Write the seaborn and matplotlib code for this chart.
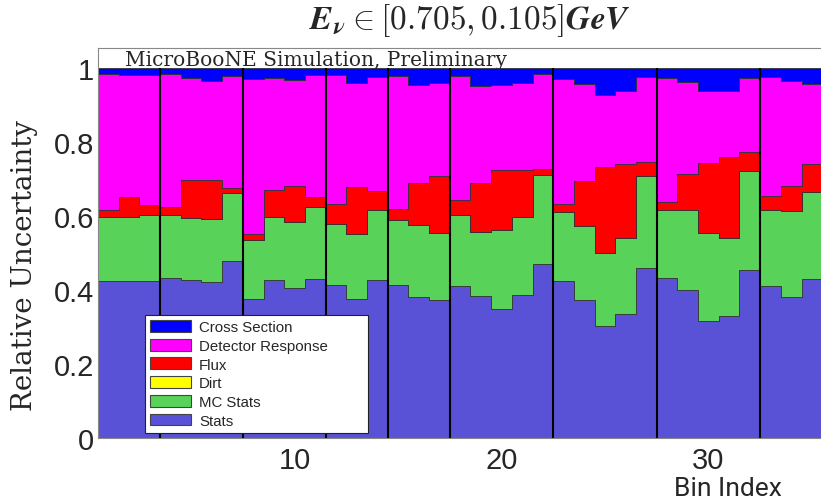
import numpy as np
import pandas as pd
import seaborn as sns
import matplotlib.pyplot as plt
from matplotlib.patches import Patch
from matplotlib.ticker import MultipleLocator, FuncFormatter

# bin index 1..35 (visible part of the plot)
bins = list(range(1, 36))

# fractional contribution of each source per bin
stats = [0.424, 0.424, 0.424, 0.432, 0.427, 0.422, 0.478, 0.376, 0.427, 0.405,
         0.430, 0.414, 0.376, 0.427, 0.414, 0.381, 0.373, 0.411, 0.384, 0.349,
         0.386, 0.470, 0.424, 0.373, 0.303, 0.335, 0.459, 0.432, 0.400, 0.316,
         0.330, 0.454, 0.411, 0.381, 0.430]
mc_stats = [0.173, 0.173, 0.179, 0.171, 0.168, 0.170, 0.184, 0.159, 0.170, 0.179,
            0.194, 0.164, 0.175, 0.189, 0.175, 0.195, 0.181, 0.192, 0.173, 0.213,
            0.211, 0.241, 0.187, 0.200, 0.197, 0.206, 0.249, 0.184, 0.216, 0.238,
            0.211, 0.268, 0.205, 0.233, 0.235]
dirt = [0.0] * 35
flux = [0.019, 0.054, 0.027, 0.021, 0.102, 0.105, 0.014, 0.016, 0.073, 0.097,
        0.027, 0.054, 0.127, 0.052, 0.030, 0.113, 0.154, 0.040, 0.132, 0.162,
        0.127, 0.016, 0.021, 0.122, 0.232, 0.200, 0.038, 0.022, 0.098, 0.189,
        0.218, 0.051, 0.038, 0.067, 0.076]
detector = [0.368, 0.330, 0.351, 0.360, 0.276, 0.268, 0.302, 0.419, 0.303, 0.287,
            0.330, 0.349, 0.281, 0.308, 0.359, 0.265, 0.251, 0.335, 0.262, 0.230,
            0.235, 0.257, 0.338, 0.262, 0.195, 0.197, 0.230, 0.335, 0.248, 0.195,
            0.179, 0.200, 0.322, 0.284, 0.216]
xsec = [0.016, 0.019, 0.019, 0.016, 0.027, 0.035, 0.022, 0.030, 0.027, 0.032,
        0.019, 0.019, 0.041, 0.024, 0.022, 0.046, 0.041, 0.022, 0.049, 0.046,
        0.041, 0.016, 0.030, 0.043, 0.073, 0.062, 0.024, 0.027, 0.038, 0.062,
        0.062, 0.027, 0.024, 0.035, 0.043]

# boundaries between energy slices
dividers = [3.5, 7.5, 11.5, 14.5, 17.5, 22.5, 27.5, 32.5]

labels = ['Cross Section', 'Detector Response', 'Flux', 'Dirt', 'MC Stats', 'Stats']
colors = ['#0000ff', '#ff00ff', '#ff0000', '#ffff00', '#58d258', '#5a52d6']
series = [xsec, detector, flux, dirt, mc_stats, stats]

rows = []
for lab, vals in zip(labels, series):
    for b, v in zip(bins, vals):
        rows.append({'bin': b, 'frac': v, 'source': lab})
df = pd.DataFrame(rows)

sns.set_style('white')
plt.rcParams['font.family'] = ['Liberation Sans', 'DejaVu Sans']
plt.rcParams['mathtext.fontset'] = 'cm'

fig = plt.figure(figsize=(8.21, 5.02), dpi=100)
ax = fig.add_axes([98 / 821, 1 - 439 / 502, 1 - 98 / 821, (439 - 49) / 502])

sns.histplot(data=df, x='bin', weights='frac', hue='source', hue_order=labels,
             palette=dict(zip(labels, colors)), multiple='stack', discrete=True,
             element='step', fill=True, alpha=1, linewidth=0.6, edgecolor='#333333',
             legend=False, ax=ax)

ax.vlines(dividers, 0, 1, colors='black', linewidth=1.5)

ax.set_xlim(0.5, 35.44)
ax.set_ylim(0, 1.054)
ax.set_xticks([10, 20, 30])
ax.xaxis.set_minor_locator(MultipleLocator(2))
ax.set_yticks([0, 0.2, 0.4, 0.6, 0.8, 1.0])
ax.yaxis.set_minor_locator(MultipleLocator(0.05))
ax.yaxis.set_major_formatter(FuncFormatter(lambda v, p: f'{v:g}'))
ax.tick_params(which='major', direction='in', length=15, width=0.8, labelsize=21,
               color='#444444')
ax.tick_params(which='minor', direction='in', length=7, width=0.8, color='#444444')
ax.tick_params(axis='y', pad=3)
ax.tick_params(axis='x', pad=6)
for side in ['left', 'top', 'bottom']:
    ax.spines[side].set_color('#888888')
    ax.spines[side].set_linewidth(0.8)
ax.spines['right'].set_visible(False)

ax.set_xlabel('')
ax.set_ylabel('')
fig.text(25 / 821, 1 - 266 / 502, 'Relative Uncertainty', rotation=90,
         ha='center', va='center', family='DejaVu Serif', fontsize=20)

fig.text(782 / 821, 1 / 502, 'Bin Index', ha='right', va='bottom', fontsize=19,
         family='Roboto')
fig.text(470 / 821, 1 - 21 / 502, r'$\mathbfit{E}_{\mathbfit{\nu}} \in \mathbf{[0.705, 0.105]}\mathbfit{GeV}$',
         ha='center', va='center', fontsize=24)
ax.text(0.038, 1.0 - 0.004, 'MicroBooNE Simulation, Preliminary', transform=ax.transAxes,
        ha='left', va='top', family='DejaVu Serif', fontsize=14.5)

handles = [Patch(facecolor=c, edgecolor='#444444', linewidth=0.8) for c in colors]
leg = ax.legend(handles, labels, loc='lower left', mode='expand',
                bbox_to_anchor=(0.065, 0.013, 0.308, 0.3), borderaxespad=0,
                prop={'family': 'Liberation Sans', 'size': 10.8},
                handlelength=2.7, handleheight=0.85, handletextpad=0.55,
                labelspacing=0.3, borderpad=0.35, fancybox=False, framealpha=1,
                edgecolor='#222222')
leg.get_frame().set_linewidth(0.8)

fig.savefig('out.png', dpi=100)
